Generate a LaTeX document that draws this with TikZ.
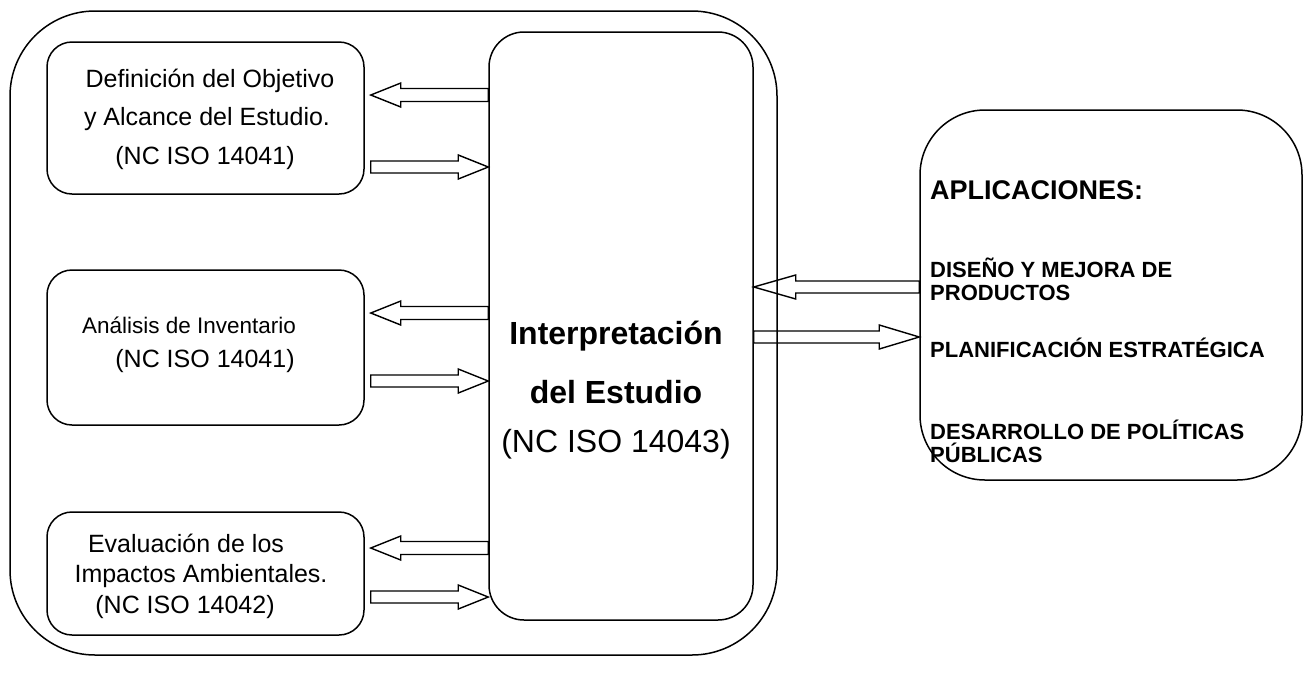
\documentclass[tikz,border=0pt]{standalone}
\usepackage{fontspec}
\setmainfont{Liberation Sans}
\usetikzlibrary{calc}

\tikzset{
  panel/.style={draw, line width=1.5pt, rounded corners=#1, inner sep=0pt},
  panel/.default=25pt,
  hollow/.style={draw, line width=1.4pt, fill=white, line join=miter},
  steptext/.style={font=\fontsize{25}{30}\selectfont, inner sep=0pt},
  apptext/.style={font=\bfseries\fontsize{22}{23}\selectfont, align=left, anchor=west, inner sep=0pt},
}

% hollow block arrow: tail, tip, shaft half-width, head half-width, head length
\newcommand\blockarrow[5]{%
  \draw[hollow] let \p1=(#1), \p2=(#2), \n1={sign(\x2-\x1)}, \n2={\x2-\n1*#5} in
    (\x1,{\y1+#3}) -- ({\n2*1pt},{\y1+#3}) -- ({\n2*1pt},{\y1+#4}) -- (\x2,\y1)
    -- ({\n2*1pt},{\y1-#4}) -- ({\n2*1pt},{\y1-#3}) -- (\x1,{\y1-#3}) -- cycle;}

\begin{document}
\begin{tikzpicture}[x=1pt, y=-1pt]
\useasboundingbox (0,0) rectangle (1304,683);

% the three phase boxes
\node[panel, minimum width=317pt, minimum height=152pt] (def) at (205.5,118) {};
\node[panel, minimum width=317pt, minimum height=155pt] (inv) at (205.5,347.5) {};
\node[panel, minimum width=317pt, minimum height=123pt] (imp) at (205.5,573.5) {};

\node[steptext] at (210,81) {Definición del Objetivo};
\node[steptext] at (207,119) {y Alcance del Estudio.};
\node[steptext] at (205,158) {(NC ISO 14041)};

\node[steptext, font=\fontsize{22.5}{30}\selectfont] at (189,325) {Análisis de Inventario};
\node[steptext] at (205,361) {(NC ISO 14041)};

\node[steptext] at (186,543) {Evaluación de los};
\node[steptext] at (201,576) {Impactos Ambientales.};
\node[steptext] at (185,607) {(NC ISO 14042)};

% interpretation box
\node[panel=35pt, minimum width=264pt, minimum height=588pt] (interp) at (621,326) {};
\node[font=\bfseries\fontsize{32}{59}\selectfont, align=center] at (616,362) {Interpretación\\del Estudio};
\node[font=\fontsize{32}{36}\selectfont] at (616,444) {(NC ISO 14043)};

% applications box
\node[panel=65pt, minimum width=382pt, minimum height=370pt] (apps) at (1111,295) {};
\node[apptext, font=\bfseries\fontsize{27}{30}\selectfont] at (930,190) {APLICACIONES:};
\node[apptext] at (930,279) {DISEÑO Y MEJORA DE\\PRODUCTOS};
\node[apptext] at (930,348) {PLANIFICACIÓN ESTRATÉGICA};
\node[apptext] at (930,441) {DESARROLLO DE POLÍTICAS\\PÚBLICAS};

% arrow end points
\coordinate (d1) at (interp.west |- 0,95);   \coordinate (d1t) at ($(def.east |- 0,95)+(6,0)$);
\coordinate (d2) at ($(def.east |- 0,167)+(6,0)$); \coordinate (d2t) at (interp.west |- 0,167);
\coordinate (i1) at (interp.west |- 0,313);  \coordinate (i1t) at ($(inv.east |- 0,313)+(6,0)$);
\coordinate (i2) at ($(inv.east |- 0,381)+(6,0)$); \coordinate (i2t) at (interp.west |- 0,381);
\coordinate (e1) at (interp.west |- 0,548);  \coordinate (e1t) at ($(imp.east |- 0,548)+(6,0)$);
\coordinate (e2) at ($(imp.east |- 0,597)+(6,0)$); \coordinate (e2t) at (interp.west |- 0,597);
\coordinate (a1) at (apps.west |- 0,287);    \coordinate (a1t) at (interp.east |- 0,287);
\coordinate (a2) at (interp.east |- 0,337);  \coordinate (a2t) at (apps.west |- 0,337);

\blockarrow{d1}{d1t}{6.5pt}{12pt}{30pt}
\blockarrow{d2}{d2t}{6pt}{12pt}{30pt}
\blockarrow{i1}{i1t}{6.5pt}{12pt}{30pt}
\blockarrow{i2}{i2t}{6pt}{12pt}{30pt}
\blockarrow{e1}{e1t}{6.5pt}{12pt}{30pt}
\blockarrow{e2}{e2t}{6pt}{12pt}{30pt}
\blockarrow{a1}{a1t}{6pt}{12pt}{42pt}
\blockarrow{a2}{a2t}{6pt}{12pt}{40pt}

% outer container, drawn last so its line crosses the right-hand arrows
\node[panel=85pt, minimum width=767pt, minimum height=644pt] (outer) at (393.5,333) {};
\end{tikzpicture}
\end{document}
